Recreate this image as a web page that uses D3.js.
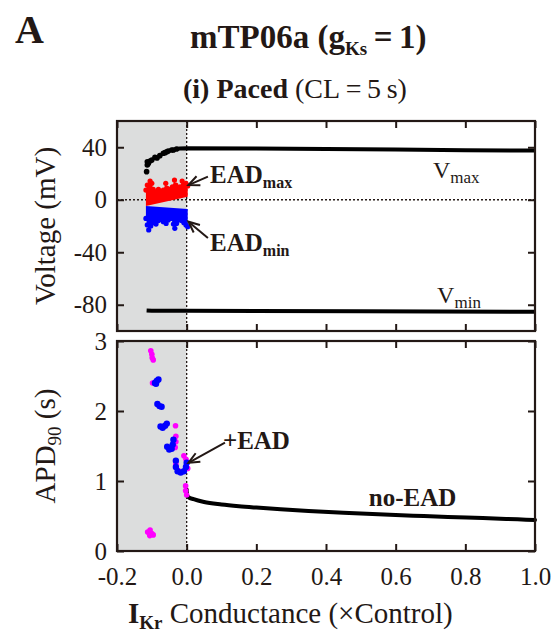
<!DOCTYPE html>
<html>
<head>
<meta charset="utf-8">
<script src="https://cdn.jsdelivr.net/npm/d3@7"></script>
<style>
  html, body { margin: 0; padding: 0; background: #fff; }
  svg { display: block; }
  text { font-family: "Liberation Serif", "Times New Roman", serif; fill: #231815; }
</style>
</head>
<body>
<svg id="chart" width="560" height="634"></svg>
<script>
// ---- data (IKr conductance g, x Control) ----
const xTicks = [-0.2, 0.0, 0.2, 0.4, 0.6, 0.8, 1.0];
const vTicks = [40, 0, -40, -80];
const apdTicks = [0, 1, 2, 3];
const eadRegion = [-0.2, 0.0];

// Vmax: scattered beats at low conductance, then steady plateau
const vmaxScatter = [
  [-0.115, 21.4], [-0.113, 26.5], [-0.113, 29.0], [-0.110, 27.7], [-0.105, 29.5],
  [-0.100, 30.3], [-0.091, 32.3], [-0.085, 31.8], [-0.077, 33.6], [-0.067, 35.4],
  [-0.062, 35.9], [-0.057, 36.6], [-0.053, 37.1], [-0.043, 37.9], [-0.038, 37.9],
  [-0.029, 38.7]
];
const vmaxLine = [
  [-0.029, 38.7], [-0.020, 39.1], [0.0, 39.2], [0.2, 39.0], [0.4, 38.6],
  [0.6, 38.2], [0.8, 37.8], [1.0, 37.5]
];
const vminLine = [
  [-0.115, -84.3], [-0.100, -84.5], [0.0, -84.6], [0.5, -85.0], [1.0, -85.3]
];

// EAD maxima: upper envelope, then lower edge (right to left)
const eadMaxTop = [
  [-0.117, 7.4], [-0.113, 11.2], [-0.105, 14.3], [-0.100, 12.5], [-0.096, 7.9],
  [-0.088, 6.1], [-0.081, 7.9], [-0.075, 6.1], [-0.067, 7.4], [-0.060, 12.5],
  [-0.056, 8.7], [-0.048, 7.9], [-0.041, 9.9], [-0.035, 15.0], [-0.031, 11.2],
  [-0.024, 8.7], [-0.019, 9.9], [-0.013, 14.3], [-0.009, 11.2], [-0.002, 12.5],
  [0.003, 10.5]
];
const eadMaxBase = [[0.003, 2.3], [-0.117, -4.8]];

// EAD minima: lower envelope, then upper edge (right to left)
const eadMinBottom = [
  [-0.117, -14.2], [-0.113, -19.2], [-0.109, -23.0], [-0.103, -20.0], [-0.096, -17.5],
  [-0.088, -18.5], [-0.081, -15.9], [-0.075, -14.9], [-0.067, -16.7], [-0.059, -18.0],
  [-0.053, -15.4], [-0.046, -14.2], [-0.038, -18.5], [-0.034, -21.8], [-0.029, -18.0],
  [-0.021, -15.4], [-0.014, -15.9], [-0.008, -17.5], [-0.002, -19.2], [0.003, -20.5]
];
const eadMinBase = [[0.003, -7.0], [-0.117, -4.8]];

// APD90 without EADs
const apdNoEad = [
  [0.0, 0.88], [0.001, 0.80], [0.005, 0.77], [0.02, 0.74], [0.05, 0.70],
  [0.10, 0.665], [0.15, 0.64], [0.20, 0.62], [0.27, 0.595], [0.35, 0.57],
  [0.45, 0.545], [0.55, 0.525], [0.65, 0.505], [0.75, 0.486], [0.85, 0.47],
  [0.95, 0.452], [1.0, 0.443]
];
// APD90 of beats with EADs
const apdEadMagenta = [
  [-0.103, 2.86], [-0.100, 2.81], [-0.099, 2.76], [-0.096, 2.73], [-0.098, 2.40],
  [-0.032, 1.79], [-0.031, 1.64], [-0.031, 1.56], [-0.033, 1.48],
  [-0.008, 1.36], [-0.002, 1.31], [0.003, 1.18], [-0.031, 1.24], [-0.024, 1.15],
  [-0.003, 0.93], [-0.003, 0.86], [0.0, 0.80],
  [-0.112, 0.27], [-0.105, 0.30], [-0.100, 0.25], [-0.096, 0.23], [-0.106, 0.22]
];
const apdEadBlue = [
  [-0.091, 2.40], [-0.086, 2.43], [-0.081, 2.45], [-0.088, 2.39],
  [-0.084, 2.10], [-0.078, 2.07], [-0.072, 2.06],
  [-0.075, 1.78], [-0.069, 1.76], [-0.062, 1.79], [-0.057, 1.82],
  [-0.056, 1.49], [-0.050, 1.45], [-0.043, 1.46], [-0.040, 1.52], [-0.038, 1.59],
  [-0.031, 1.29], [-0.031, 1.20], [-0.026, 1.14], [-0.017, 1.12], [-0.008, 1.14],
  [-0.002, 1.20], [0.0, 1.26]
];

// ---- layout ----
const ink = "#231815";
const svg = d3.select("#chart");
const plotL = 117, plotR = 535;
const top1 = 121, bot1 = 331, top2 = 341, bot2 = 551;

const x = d3.scaleLinear().domain([-0.2, 1.0]).range([plotL, plotR]);
const yV = d3.scaleLinear().domain([-100, 60]).range([bot1, top1]);
const yA = d3.scaleLinear().domain([0, 3]).range([bot2, top2]);

function panel(y0, y1) {
  const g = svg.append("g");
  // EAD-prone range shading
  g.append("rect")
    .attr("x", x(eadRegion[0])).attr("y", y0)
    .attr("width", x(eadRegion[1]) - x(eadRegion[0])).attr("height", y1 - y0)
    .attr("fill", "#dcdddd");
  // dotted reference line at g = 0
  g.append("line")
    .attr("x1", x(0)).attr("x2", x(0)).attr("y1", y0).attr("y2", y1)
    .attr("stroke", ink).attr("stroke-width", 1.3).attr("stroke-dasharray", "2,2");
  return g;
}

function frame(y, y0, y1, yTickVals, yFmt, showX) {
  const g = svg.append("g");
  const tick = 7;
  const left = g.append("g").attr("transform", `translate(${plotL},0)`)
    .call(d3.axisLeft(y).tickValues(yTickVals).tickSize(-tick).tickPadding(10).tickFormat(yFmt));
  const right = g.append("g").attr("transform", `translate(${plotR},0)`)
    .call(d3.axisRight(y).tickValues(yTickVals).tickSize(-tick).tickFormat(""));
  const topA = g.append("g").attr("transform", `translate(0,${y0})`)
    .call(d3.axisTop(x).tickValues(xTicks).tickSize(-tick).tickFormat(""));
  const botA = g.append("g").attr("transform", `translate(0,${y1})`)
    .call(d3.axisBottom(x).tickValues(xTicks).tickSize(-tick).tickPadding(16)
      .tickFormat(showX ? (d => d.toFixed(1)) : ""));
  [left, right, topA, botA].forEach(a => {
    a.select(".domain").remove();
    a.selectAll(".tick line").attr("stroke", ink).attr("stroke-width", 2);
    a.selectAll(".tick text").attr("fill", ink)
      .style("font-family", '"Liberation Serif", serif').style("font-size", "25px");
  });
  g.append("rect")
    .attr("x", plotL).attr("y", y0).attr("width", plotR - plotL).attr("height", y1 - y0)
    .attr("fill", "none").attr("stroke", ink).attr("stroke-width", 2.2);
}

// ---------- top panel: voltage ----------
const p1 = panel(top1, bot1);
p1.append("line")
  .attr("x1", plotL).attr("x2", plotR).attr("y1", yV(0)).attr("y2", yV(0))
  .attr("stroke", ink).attr("stroke-width", 1.3).attr("stroke-dasharray", "2,2");

const lineV = d3.line().x(d => x(d[0])).y(d => yV(d[1]));
p1.append("path").attr("d", lineV(vmaxLine))
  .attr("fill", "none").attr("stroke", "#000").attr("stroke-width", 4);
p1.append("path").attr("d", lineV(vminLine))
  .attr("fill", "none").attr("stroke", "#000").attr("stroke-width", 4);
p1.selectAll("circle.vmax").data(vmaxScatter).join("circle")
  .attr("cx", d => x(d[0])).attr("cy", d => yV(d[1])).attr("r", 2.8).attr("fill", "#000");

// EAD max (red) and min (blue) clouds
const closed = d3.line().x(d => x(d[0])).y(d => yV(d[1]));
p1.append("path").attr("d", closed(eadMaxTop.concat(eadMaxBase)) + "Z").attr("fill", "#ff0000");
p1.selectAll("circle.eadmax").data(eadMaxTop).join("circle")
  .attr("cx", d => x(d[0])).attr("cy", d => yV(d[1])).attr("r", 2.6).attr("fill", "#ff0000");
p1.append("path").attr("d", closed(eadMinBottom.concat(eadMinBase)) + "Z").attr("fill", "#0000ff");
p1.selectAll("circle.eadmin").data(eadMinBottom).join("circle")
  .attr("cx", d => x(d[0])).attr("cy", d => yV(d[1])).attr("r", 2.6).attr("fill", "#0000ff");

frame(yV, top1, bot1, vTicks, d => String(d), false);

// ---------- bottom panel: APD90 ----------
const p2 = panel(top2, bot2);
const lineA = d3.line().x(d => x(d[0])).y(d => yA(d[1])).curve(d3.curveMonotoneX);
p2.append("path").attr("d", lineA(apdNoEad))
  .attr("fill", "none").attr("stroke", "#000").attr("stroke-width", 4)
  .attr("stroke-linejoin", "round").attr("stroke-linecap", "round");
p2.selectAll("circle.mag").data(apdEadMagenta).join("circle")
  .attr("cx", d => x(d[0])).attr("cy", d => yA(d[1])).attr("r", 2.8).attr("fill", "#ff00ff");
p2.selectAll("circle.blu").data(apdEadBlue).join("circle")
  .attr("cx", d => x(d[0])).attr("cy", d => yA(d[1])).attr("r", 3.2).attr("fill", "#0000ff");

frame(yA, top2, bot2, apdTicks, d => String(d), true);

// ---------- annotations ----------
function arrow(x1, y1, x2, y2) {
  const g = svg.append("g").attr("stroke", ink).attr("stroke-width", 2).attr("fill", "none");
  g.append("line").attr("x1", x1).attr("y1", y1).attr("x2", x2).attr("y2", y2);
  const a = Math.atan2(y2 - y1, x2 - x1), L = 12, w = 0.42;
  g.append("path").attr("d",
    `M${x2 - L * Math.cos(a - w)},${y2 - L * Math.sin(a - w)}L${x2},${y2}L${x2 - L * Math.cos(a + w)},${y2 - L * Math.sin(a + w)}`);
}
function subText(px, py, main, sub, size, subSize, bold, subBold) {
  const t = svg.append("text").attr("x", px).attr("y", py)
    .style("font-size", size + "px").style("font-weight", bold ? "bold" : "normal");
  t.append("tspan").text(main);
  t.append("tspan").attr("dy", size * 0.2).style("font-size", subSize + "px")
    .style("font-weight", subBold ? "bold" : "normal").text(sub);
  return t;
}

arrow(x(0.061), yV(17.6), x(0.005), yV(11.2));
arrow(x(0.061), yV(-29.1), x(0.005), yV(-16.7));
arrow(x(0.110), yA(1.547), x(0.005), yA(1.26));

subText(x(0.067), yV(12.8), "EAD", "max", 25, 16, true, true);
subText(x(0.067), yV(-39), "EAD", "min", 25, 16, true, true);
subText(x(0.707), yV(16.6), "V", "max", 24, 17, false, false);
subText(x(0.719), yV(-78.7), "V", "min", 24, 17, false, false);
svg.append("text").attr("x", x(0.104)).attr("y", yA(1.457))
  .style("font-size", "25px").style("font-weight", "bold").text("+EAD");
svg.append("text").attr("x", x(0.523)).attr("y", yA(0.643))
  .style("font-size", "25px").style("font-weight", "bold").text("no-EAD");

// ---------- titles and axis labels ----------
svg.append("text").attr("x", 15).attr("y", 43)
  .style("font-size", "40px").style("font-weight", "bold").text("A");

const title = svg.append("text").attr("x", 190).attr("y", 48)
  .style("font-size", "33px").style("font-weight", "bold");
title.append("tspan").text("mTP06a (g");
title.append("tspan").attr("dy", 7).style("font-size", "19px").text("Ks");
title.append("tspan").attr("dy", -7).text("\u2009=\u20091)");

const sub = svg.append("text").attr("x", 183).attr("y", 98).style("font-size", "28px");
sub.append("tspan").style("font-weight", "bold").text("(i) Paced ");
sub.append("tspan").text("(CL\u2009=\u20095\u2009s)");

svg.append("text").attr("transform", `translate(55,${(top1 + bot1) / 2}) rotate(-90)`)
  .attr("text-anchor", "middle").style("font-size", "29px").text("Voltage (mV)");

const apdLab = svg.append("text").attr("transform", `translate(55,${(top2 + bot2) / 2}) rotate(-90)`)
  .attr("text-anchor", "middle").style("font-size", "29px");
apdLab.append("tspan").text("APD");
apdLab.append("tspan").attr("dy", 6).style("font-size", "19px").text("90");
apdLab.append("tspan").attr("dy", -6).text(" (s)");

const xl = svg.append("text").attr("x", 128).attr("y", 623).style("font-size", "29px");
xl.append("tspan").style("font-weight", "bold").text("I");
xl.append("tspan").attr("dy", 6).style("font-size", "19px").style("font-weight", "bold").text("Kr");
xl.append("tspan").attr("dy", -6).text(" Conductance (\u00d7Control)");
</script>
</body>
</html>
